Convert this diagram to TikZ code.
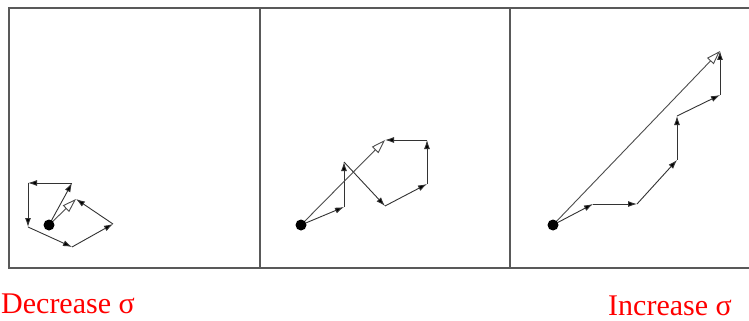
\documentclass[tikz,border=0pt]{standalone}
\usepackage{fontspec}
\setmainfont{Liberation Serif}
\usetikzlibrary{arrows.meta}

\tikzset{
  frameline/.style={draw=black!65, line width=1.2pt},
  walkline/.style={draw=black!80, line width=0.9pt,
    -{Latex[length=9pt,width=6pt,fill=black]}},
  sumline/.style={draw=black!70, line width=0.9pt,
    -{Triangle[open,length=14pt,width=9pt,fill=white]}},
  startdot/.style={fill=black},
  caption/.style={text=red, font=\fontsize{30}{34}\selectfont, inner sep=0pt}
}

\begin{document}
\begin{tikzpicture}[x=1pt,y=-1pt]
  \useasboundingbox
    (0,0)
    rectangle
    (749,321);

  % panels
  \draw[frameline]
    (749,8) -- (9,8) -- (9,268) -- (749,268);
  \draw[frameline]
    (260,8) -- (260,268);
  \draw[frameline]
    (510,8) -- (510,268);

  % small sigma
  \coordinate (a0) at (49,225);
  \coordinate (a1) at (72,183);
  \coordinate (a2) at (28,183);
  \coordinate (a3) at (28,227);
  \coordinate (a4) at (72,247);
  \coordinate (a5) at (113,224);
  \coordinate (a6) at (76,199);
  \foreach \i/\j in {0/1,1/2,2/3,3/4,4/5,5/6}
    \draw[walkline] (a\i) -- (a\j);
  \draw[sumline]
    (a0) -- (a6);
  \fill[startdot]
    (a0)
    circle
    [radius=5.5];

  % medium sigma
  \coordinate (b0) at (301,225);
  \coordinate (b1) at (344,207);
  \coordinate (b2) at (344,162);
  \coordinate (b3) at (385,206);
  \coordinate (b4) at (427,184);
  \coordinate (b5) at (427,140);
  \coordinate (b6) at (385,140);
  \foreach \i/\j in {0/1,1/2,2/3,3/4,4/5,5/6}
    \draw[walkline] (b\i) -- (b\j);
  \draw[sumline]
    (b0) -- (b6);
  \fill[startdot]
    (b0)
    circle
    [radius=5.5];

  % large sigma
  \coordinate (c0) at (553,225);
  \coordinate (c1) at (593,204);
  \coordinate (c2) at (637,204);
  \coordinate (c3) at (677,160);
  \coordinate (c4) at (677,116);
  \coordinate (c5) at (720,95);
  \coordinate (c6) at (720,51);
  \foreach \i/\j in {0/1,1/2,2/3,3/4,4/5,5/6}
    \draw[walkline] (c\i) -- (c\j);
  \draw[sumline]
    (c0) -- (c6);
  \fill[startdot]
    (c0)
    circle
    [radius=5.5];

  \node[caption, anchor=base west] (dec) at (1,313) {Decrease σ};
  \node[caption, anchor=base east] (inc) at (732,315) {Increase σ};
\end{tikzpicture}
\end{document}
